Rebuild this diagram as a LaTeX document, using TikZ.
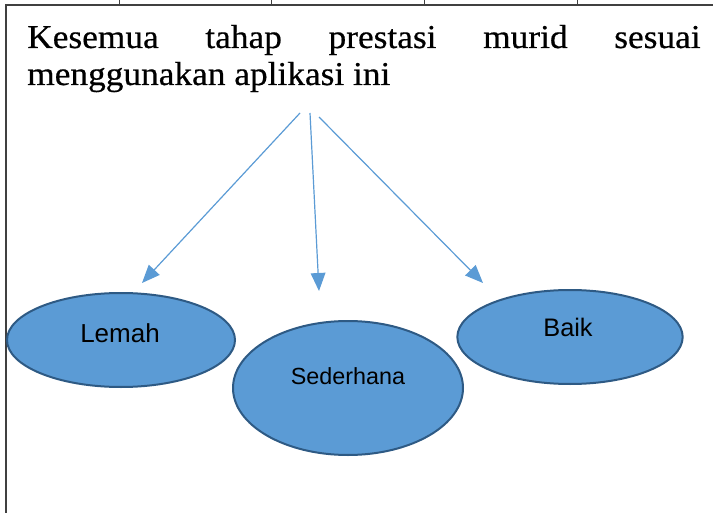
\documentclass[tikz,border=0pt]{standalone}
\usepackage{fontspec}
\setmainfont{Liberation Serif}
\newfontfamily\titlefont[FakeStretch=1.06,FakeBold=0.5]{Liberation Serif}
\newfontfamily\lblfont{Liberation Sans}
\usetikzlibrary{arrows.meta,shapes.geometric}
\definecolor{fillblue}{HTML}{5B9BD5}
\definecolor{edgeblue}{HTML}{2E5A84}
\definecolor{arrowblue}{HTML}{5B9BD5}
\begin{document}
\begin{tikzpicture}[x=0.75pt,y=-0.75pt,
  oval/.style={ellipse, fill=fillblue, draw=edgeblue, line width=1.5pt, inner sep=0pt},
  conn/.style={draw=arrowblue, line width=0.9pt, -{Triangle[length=13.5pt,width=11pt]}},
  frame/.style={draw=black!75, line width=0.9pt},
  title/.style={anchor=base west, inner sep=0pt, font=\titlefont\fontsize{25}{29}\selectfont}]
\useasboundingbox (0,0) rectangle (713,513);
% frame
\draw[frame] (6,513) -- (6,5) -- (713,5);
\foreach \xx in {119,271,424,577} \draw[frame, line width=0.5pt] (\xx,0) -- (\xx,5);
% title
\node[title] (t1) at (27,48)
  {\makebox[505pt][s]{Kesemua\hfill tahap\hfill prestasi\hfill murid\hfill sesuai}};
\node[title] (t2) at (27,85) {menggunakan aplikasi ini};
% ellipses
\node[oval, minimum width=171pt, minimum height=70.5pt] (lemah) at (121,340) {};
\node[oval, minimum width=172.5pt, minimum height=100.5pt] (seder) at (348,388) {};
\node[oval, minimum width=169pt, minimum height=70.5pt] (baik) at (570,337) {};
\node[font=\lblfont\fontsize{19.5}{22}\selectfont, inner sep=0pt] (lt) at (120,333) {Lemah};
\node[font=\lblfont\fontsize{17.5}{20}\selectfont, inner sep=0pt] (st) at (348,376) {Sederhana};
\node[font=\lblfont\fontsize{19}{22}\selectfont, inner sep=0pt] (bt) at (568,327) {Baik};
% arrows
\coordinate (s1) at (300,113);
\coordinate (s2) at (310,113);
\coordinate (s3) at (319,117);
\coordinate (e1) at (142,283);
\coordinate (e2) at (319,291);
\coordinate (e3) at (483,283);
\draw[conn] (s1) -- (e1);
\draw[conn] (s2) -- (e2);
\draw[conn] (s3) -- (e3);
\end{tikzpicture}
\end{document}
